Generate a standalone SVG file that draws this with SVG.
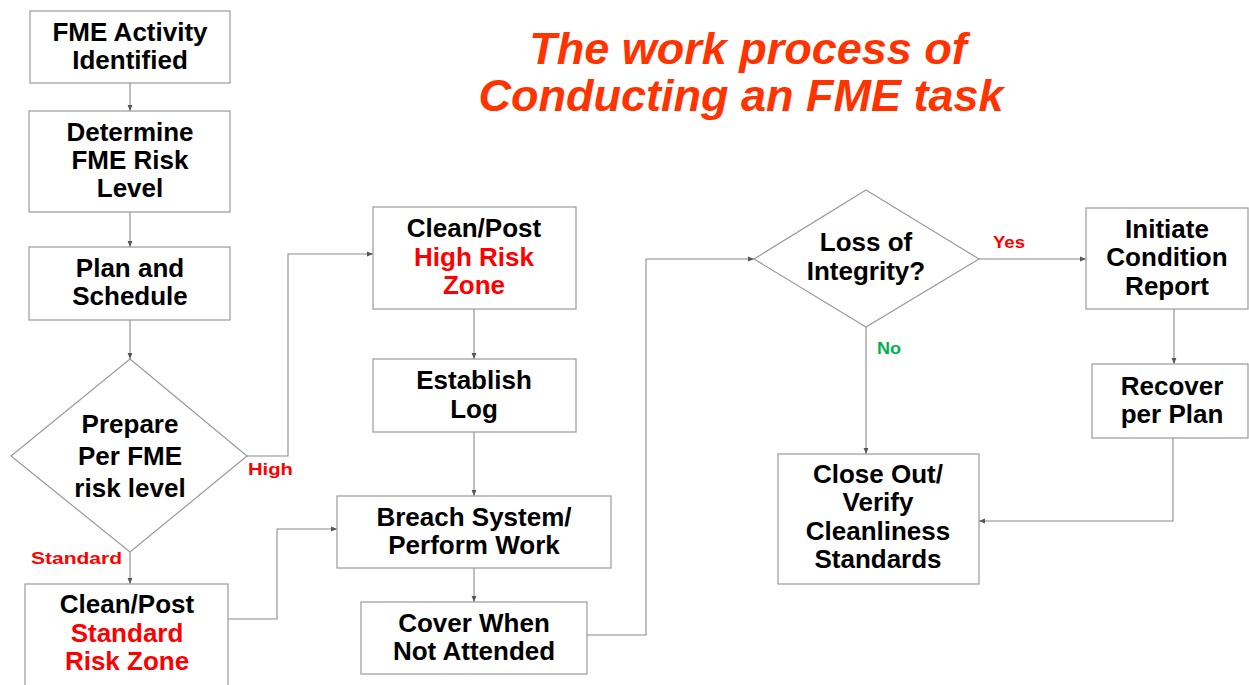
<svg xmlns="http://www.w3.org/2000/svg" width="1249" height="685" viewBox="0 0 1249 685">
<defs>
<style>
.box{fill:#fff;stroke:#9a9a9a;stroke-width:1.2}
.t{font-family:"Liberation Sans",Arial,sans-serif;font-weight:bold;font-size:26px;fill:#000;text-anchor:middle}
.r{fill:#ff0000}
.lbl{font-family:"Liberation Sans",Arial,sans-serif;font-weight:bold;font-size:17px;fill:#ff0000}
.no{fill:#00b050}
.c{fill:none;stroke:#8a8a8a;stroke-width:1.1;marker-end:url(#ah)}
.title{font-family:"Liberation Sans",Arial,sans-serif;font-weight:bold;font-style:italic;font-size:45px;fill:#ff3300;text-anchor:middle}
</style>
<marker id="ah" viewBox="0 0 10 10" refX="10" refY="5" markerWidth="6" markerHeight="6" orient="auto" markerUnits="userSpaceOnUse">
<path d="M0,1 L10,5 L0,9 z" fill="#555"/>
</marker>
</defs>
<rect width="1249" height="685" fill="#fff"/>
<text class="title" x="748" y="64">The work process of</text>
<text class="title" x="741" y="111">Conducting an FME task</text>

<g id="connectors">
<path class="c" d="M130,83 V111"/>
<path class="c" d="M130,212 V247"/>
<path class="c" d="M130,320 V359"/>
<path class="c" d="M247,456 H288 V254 H373"/>
<path class="c" d="M130,552 V584"/>
<path class="c" d="M228,619 H277 V529 H337"/>
<path class="c" d="M474,309 V359"/>
<path class="c" d="M474,432 V496"/>
<path class="c" d="M474,568 V602"/>
<path class="c" d="M587,635 H646 V259 H754"/>
<path class="c" d="M979,259 H1086"/>
<path class="c" d="M866,327 V454"/>
<path class="c" d="M1174,309 V364"/>
<path class="c" d="M1173,438 V521 H979"/>
</g>

<g id="labels">
<text class="lbl" x="248" y="475" textLength="45" lengthAdjust="spacingAndGlyphs">High</text>
<text class="lbl" x="31" y="564" textLength="91" lengthAdjust="spacingAndGlyphs">Standard</text>
<text class="lbl" x="993" y="248" textLength="32" lengthAdjust="spacingAndGlyphs">Yes</text>
<text class="lbl no" x="877" y="354" textLength="24" lengthAdjust="spacingAndGlyphs">No</text>
</g>

<g id="n1"><rect class="box" x="30" y="11" width="200" height="72"/>
<text class="t" x="130" y="41">FME Activity</text><text class="t" x="130" y="69">Identified</text></g>

<g id="n2"><rect class="box" x="29" y="111" width="201" height="101"/>
<text class="t" x="130" y="141">Determine</text><text class="t" x="130" y="169">FME Risk</text><text class="t" x="130" y="197">Level</text></g>

<g id="n3"><rect class="box" x="29" y="247" width="201" height="73"/>
<text class="t" x="130" y="277">Plan and</text><text class="t" x="130" y="305">Schedule</text></g>

<g id="n4"><polygon class="box" points="130,359 247,456 130,552 11,456"/>
<text class="t" x="130" y="433">Prepare</text><text class="t" x="130" y="465">Per FME</text><text class="t" x="130" y="497">risk level</text></g>

<g id="n5"><rect class="box" x="25" y="584" width="203" height="110"/>
<text class="t" x="127" y="613">Clean/Post</text><text class="t r" x="127" y="642">Standard</text><text class="t r" x="127" y="670">Risk Zone</text></g>

<g id="n6"><rect class="box" x="373" y="207" width="203" height="102"/>
<text class="t" x="474" y="237">Clean/Post</text><text class="t r" x="474" y="266">High Risk</text><text class="t r" x="474" y="294">Zone</text></g>

<g id="n7"><rect class="box" x="373" y="359" width="203" height="73"/>
<text class="t" x="474" y="389">Establish</text><text class="t" x="474" y="418">Log</text></g>

<g id="n8"><rect class="box" x="337" y="496" width="274" height="72"/>
<text class="t" x="474" y="526">Breach System/</text><text class="t" x="474" y="554">Perform Work</text></g>

<g id="n9"><rect class="box" x="361" y="602" width="226" height="72"/>
<text class="t" x="474" y="632">Cover When</text><text class="t" x="474" y="660">Not Attended</text></g>

<g id="n10"><polygon class="box" points="866,190 979,259 866,327 754,259"/>
<text class="t" x="866" y="251">Loss of</text><text class="t" x="866" y="280">Integrity?</text></g>

<g id="n11"><rect class="box" x="1086" y="208" width="162" height="101"/>
<text class="t" x="1167" y="238">Initiate</text><text class="t" x="1167" y="266">Condition</text><text class="t" x="1167" y="295">Report</text></g>

<g id="n12"><rect class="box" x="1092" y="364" width="156" height="74"/>
<text class="t" x="1172" y="395">Recover</text><text class="t" x="1172" y="423">per Plan</text></g>

<g id="n13"><rect class="box" x="778" y="454" width="201" height="130"/>
<text class="t" x="878" y="483">Close Out/</text><text class="t" x="878" y="511">Verify</text><text class="t" x="878" y="540">Cleanliness</text><text class="t" x="878" y="568">Standards</text></g>
</svg>
